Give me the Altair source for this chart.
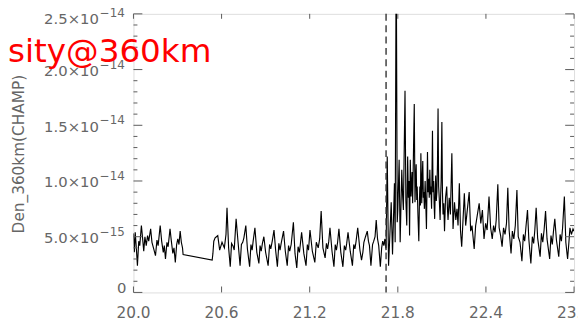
import altair as alt
import pandas as pd

# ---------------- data (day of month, density in units of 1e-15) ----------------
UNIT = 1e-15

quiet_a = [
    (20.000, 5.3), (20.006, 3.6), (20.012, 5.4), (20.020, 3.9), (20.027, 2.4),
    (20.036, 4.6), (20.043, 4.2), (20.054, 6.0), (20.062, 4.9), (20.070, 3.7),
    (20.078, 5.0), (20.087, 4.2), (20.096, 5.1), (20.104, 4.6), (20.117, 5.7),
    (20.126, 4.5), (20.138, 3.9), (20.150, 3.3), (20.160, 4.7), (20.168, 4.2),
    (20.182, 6.0), (20.192, 4.6), (20.203, 3.6), (20.210, 4.2), (20.218, 3.0),
    (20.228, 4.5), (20.236, 4.1), (20.249, 5.7), (20.258, 4.6), (20.268, 3.5),
    (20.276, 4.0), (20.285, 2.7), (20.294, 4.3), (20.302, 4.8), (20.310, 4.3),
    (20.318, 5.5), (20.326, 4.5), (20.334, 4.0), (20.338, 3.4),
]

quiet_b = [
    (20.536, 2.9), (20.541, 3.5), (20.547, 4.6), (20.556, 4.9), (20.565, 5.0),
    (20.574, 5.1), (20.587, 3.8), (20.603, 4.5), (20.619, 4.0), (20.630, 5.2),
    (20.637, 7.6), (20.648, 4.0), (20.659, 2.3), (20.668, 4.4), (20.677, 4.2),
    (20.686, 3.8), (20.699, 6.6), (20.711, 4.7), (20.726, 2.4), (20.735, 4.3),
    (20.744, 4.5), (20.752, 4.9), (20.765, 6.0), (20.776, 3.9), (20.791, 2.3),
    (20.800, 4.3), (20.808, 3.8), (20.815, 4.6), (20.827, 5.8), (20.840, 3.6),
    (20.854, 2.6), (20.862, 4.2), (20.870, 3.7), (20.878, 4.4), (20.888, 5.0),
    (20.900, 3.6), (20.917, 2.4), (20.927, 4.3), (20.935, 3.9), (20.945, 4.6),
    (20.957, 5.6), (20.968, 3.8), (20.980, 2.3), (20.990, 4.4), (20.998, 3.8),
    (21.007, 4.5), (21.022, 5.5), (21.034, 3.7), (21.047, 2.4), (21.056, 4.2),
    (21.064, 3.7), (21.074, 4.3), (21.089, 6.3), (21.100, 3.5), (21.112, 2.2),
    (21.121, 4.1), (21.130, 3.6), (21.137, 4.4), (21.145, 5.4), (21.160, 3.5),
    (21.175, 2.4), (21.184, 4.3), (21.192, 3.8), (21.196, 4.5), (21.202, 5.6),
    (21.218, 3.7), (21.235, 2.7), (21.245, 4.5), (21.258, 4.0), (21.268, 4.8),
    (21.278, 7.3), (21.290, 4.0), (21.305, 3.1), (21.314, 4.4), (21.322, 3.9),
    (21.330, 4.6), (21.338, 5.8), (21.352, 3.7), (21.365, 2.3), (21.374, 4.3),
    (21.382, 3.8), (21.390, 4.5), (21.399, 5.7), (21.412, 3.6), (21.426, 2.3),
    (21.436, 4.2), (21.445, 3.8), (21.452, 4.4), (21.461, 5.4), (21.476, 3.7),
    (21.491, 2.4), (21.500, 4.3), (21.508, 3.9), (21.516, 4.6), (21.527, 5.8),
    (21.542, 3.8), (21.553, 2.9), (21.562, 3.6), (21.569, 4.5), (21.580, 5.0),
    (21.592, 5.5), (21.600, 4.6), (21.607, 4.2), (21.617, 2.4), (21.628, 4.3),
    (21.636, 4.6), (21.645, 5.0), (21.653, 6.5), (21.662, 4.8), (21.670, 4.2),
    (21.681, 2.3), (21.690, 4.0), (21.697, 4.6), (21.705, 4.2), (21.712, 4.8),
    (21.720, 3.8),
]

storm = [
    (21.728, 12.2), (21.737, 2.4), (21.746, 5.2), (21.755, 8.1), (21.764, 3.4),
    (21.777, 9.8), (21.782, 4.5), (21.789, 32.0), (21.796, 6.3), (21.800, 7.4),
    (21.809, 11.9), (21.816, 4.5), (21.822, 8.0), (21.827, 11.0), (21.833, 8.6),
    (21.838, 7.4), (21.849, 18.1), (21.855, 8.2), (21.861, 6.0), (21.867, 12.2),
    (21.872, 8.5), (21.876, 10.0), (21.880, 5.1), (21.885, 11.9), (21.890, 8.6),
    (21.897, 10.8), (21.901, 8.0), (21.905, 11.3), (21.912, 16.9), (21.917, 8.1),
    (21.921, 10.2), (21.925, 11.5), (21.929, 8.3), (21.932, 9.5), (21.937, 7.0),
    (21.943, 4.6), (21.947, 8.0), (21.950, 9.5), (21.954, 7.8), (21.957, 12.5),
    (21.963, 8.0), (21.967, 10.5), (21.970, 11.8), (21.974, 8.5), (21.977, 9.0),
    (21.981, 7.5), (21.986, 10.0), (21.990, 8.2), (21.995, 5.7), (22.002, 12.6),
    (22.006, 9.0), (22.010, 10.2), (22.014, 8.5), (22.018, 11.0), (22.022, 8.8),
    (22.025, 9.5), (22.030, 7.5), (22.036, 14.5), (22.040, 9.0), (22.044, 10.0),
    (22.047, 8.0), (22.051, 6.6), (22.055, 9.2), (22.058, 10.5), (22.062, 8.2),
    (22.066, 9.0), (22.070, 11.5), (22.074, 16.5), (22.078, 9.5), (22.082, 8.5),
    (22.088, 6.5), (22.092, 8.8), (22.095, 10.0), (22.100, 15.3), (22.104, 9.0),
    (22.108, 7.0), (22.113, 8.0), (22.118, 5.5), (22.125, 8.5), (22.133, 9.5),
    (22.138, 7.5), (22.142, 6.5), (22.150, 8.5), (22.158, 7.0), (22.168, 12.5),
    (22.176, 5.7), (22.186, 8.1), (22.195, 6.5), (22.203, 7.5), (22.210, 6.0),
    (22.219, 9.8), (22.227, 5.5),
]

recovery = [
    (22.235, 4.1), (22.244, 6.5), (22.253, 8.9), (22.262, 6.0), (22.270, 7.0),
    (22.286, 9.0), (22.296, 5.5), (22.305, 6.0), (22.320, 3.9), (22.330, 6.0),
    (22.342, 7.0), (22.354, 8.0), (22.365, 6.2), (22.376, 7.4), (22.387, 4.8),
    (22.398, 6.2), (22.408, 5.6), (22.421, 8.6), (22.432, 5.8), (22.443, 4.8),
    (22.452, 6.0), (22.462, 5.4), (22.470, 6.5), (22.481, 9.7), (22.490, 5.8),
    (22.500, 5.1), (22.510, 4.1), (22.520, 5.8), (22.530, 5.2), (22.540, 6.2),
    (22.549, 9.4), (22.558, 5.6), (22.571, 3.5), (22.580, 5.5), (22.590, 4.8),
    (22.600, 6.0), (22.611, 9.2), (22.620, 5.0), (22.632, 4.5), (22.645, 2.8),
    (22.655, 5.2), (22.664, 4.6), (22.672, 5.8), (22.683, 7.4), (22.692, 4.8),
    (22.706, 2.6), (22.716, 5.0), (22.725, 4.4), (22.733, 5.6), (22.742, 7.6),
    (22.752, 4.9), (22.769, 3.2), (22.778, 5.3), (22.787, 4.5), (22.796, 5.6),
    (22.806, 7.3), (22.816, 4.8), (22.834, 3.0), (22.843, 5.1), (22.852, 4.3),
    (22.860, 5.5), (22.869, 6.6), (22.880, 4.7), (22.896, 3.2), (22.905, 5.2),
    (22.914, 4.6), (22.922, 5.8), (22.934, 8.6), (22.944, 4.5), (22.956, 3.0),
    (22.965, 4.5), (22.972, 5.8), (22.982, 5.2), (22.993, 5.7), (23.000, 5.5),
]

event_day = [21.72]

x_tick_vals = [20.0, 20.6, 21.2, 21.8, 22.4, 23.0]
x_tick_labels = ["20.0", "20.6", "21.2", "21.8", "22.4", "23.0"]

y_major_vals = [0.0, 5e-15, 1e-14, 1.5e-14, 2e-14, 2.5e-14]
y_major_base = ["0", "5.0×10", "1.0×10", "1.5×10", "2.0×10", "2.5×10"]
y_major_exp = ["", "−15", "−14", "−14", "−14", "−14"]
y_minor_e15 = [1, 2, 3, 4, 6, 7, 8, 9, 11, 12, 13, 14, 16, 17, 18, 19, 21, 22, 23, 24]

y_title = ["Den_360km(CHAMP)"]
overlay_text = ["sity@360km"]

# ---------------- frames ----------------
rows = quiet_a + quiet_b + storm + recovery
line_df = pd.DataFrame({"day": [r[0] for r in rows], "den": [r[1] * UNIT for r in rows]})
xt_df = pd.DataFrame({"t": x_tick_vals, "lab": x_tick_labels})
ymaj_df = pd.DataFrame({"v": y_major_vals, "base": y_major_base, "exp": y_major_exp})
ymin_df = pd.DataFrame({"v": [m * UNIT for m in y_minor_e15]})
ev_df = pd.DataFrame({"d": event_day})
title_df = pd.DataFrame({"t": y_title})
over_df = pd.DataFrame({"t": overlay_text})

W, H = 446, 282
GRAY = "#5a5a5a"
LBL = "#666666"
FONT = "DejaVu Sans"

xs = alt.Scale(domain=[20.0, 23.0], nice=False, zero=False)
ys = alt.Scale(domain=[0, 2.5e-14], nice=False, zero=False)

X = lambda f: alt.X(f, scale=xs, axis=None)
Y = lambda f: alt.Y(f, scale=ys, axis=None)

line = alt.Chart(line_df).mark_line(color="black", strokeWidth=1.15, clip=True).encode(
    x=X("day:Q"), y=Y("den:Q")
)

event = alt.Chart(ev_df).mark_rule(color="#333333", strokeDash=[7, 4.5], strokeWidth=1.4).encode(
    x=X("d:Q"), y=alt.value(0), y2=alt.value(H)
)

# inward ticks
lmaj = alt.Chart(ymaj_df).mark_rule(color=GRAY).encode(y=Y("v:Q"), x=alt.value(0), x2=alt.value(9))
rmaj = alt.Chart(ymaj_df).mark_rule(color=GRAY).encode(y=Y("v:Q"), x=alt.value(W), x2=alt.value(W - 9))
lmin = alt.Chart(ymin_df).mark_rule(color=GRAY).encode(y=Y("v:Q"), x=alt.value(0), x2=alt.value(4))
rmin = alt.Chart(ymin_df).mark_rule(color=GRAY).encode(y=Y("v:Q"), x=alt.value(W), x2=alt.value(W - 4))
bt = alt.Chart(xt_df).mark_rule(color=GRAY).encode(x=X("t:Q"), y=alt.value(H), y2=alt.value(H - 6))
tt = alt.Chart(xt_df).mark_rule(color=GRAY).encode(x=X("t:Q"), y=alt.value(0), y2=alt.value(5))

# x labels
xlab = alt.Chart(xt_df).mark_text(font=FONT, fontSize=15.5, color=LBL, align="center",
                                  baseline="alphabetic").encode(
    x=X("t:Q"), y=alt.value(H + 26), text="lab:N"
)

# y labels (base + superscript exponent)
def ylabels(filt, dy_base, dy_exp):
    base = alt.Chart(ymaj_df).transform_filter(filt).mark_text(
        font=FONT, fontSize=15, color=LBL, align="right", baseline="alphabetic", dy=dy_base
    ).encode(y=Y("v:Q"), x=alt.value(-35), text="base:N")
    exp = alt.Chart(ymaj_df).transform_filter(filt).mark_text(
        font=FONT, fontSize=12, color=LBL, align="left", baseline="alphabetic", dy=dy_exp
    ).encode(y=Y("v:Q"), x=alt.value(-34), text="exp:N")
    return base + exp

ylab_mid = ylabels("datum.v > 1e-16 && datum.v < 2.4e-14", 6.5, -1)
ylab_top = ylabels("datum.v > 2.4e-14", 10.5, 3)
ylab_zero = alt.Chart(ymaj_df).transform_filter("datum.v < 1e-16").mark_text(
    font=FONT, fontSize=15, color=LBL, align="right", baseline="alphabetic", dy=1
).encode(y=Y("v:Q"), x=alt.value(-7), text="base:N")

ytitle = alt.Chart(title_df).mark_text(font=FONT, fontSize=15.5, color=LBL, angle=270,
                                       align="center", baseline="middle").encode(
    x=alt.value(-116), y=alt.value(142), text="t:N"
)

overlay = alt.Chart(over_df).mark_text(font=FONT, fontSize=33, color="#ff0000", align="left",
                                       baseline="alphabetic").encode(
    x=alt.value(-127), y=alt.value(49), text="t:N"
)

chart = alt.layer(
    line, event, lmaj, rmaj, lmin, rmin, bt, tt, xlab, ylab_mid, ylab_top, ylab_zero, ytitle, overlay
).properties(
    width=W, height=H,
    padding={"left": 127, "top": 4, "right": 4, "bottom": 27},
    autosize=alt.AutoSizeParams(type="none"),
).configure_view(stroke=GRAY, strokeWidth=1).configure(background="white")

chart.save("out.html", embed_options={"renderer": "svg", "actions": False})
